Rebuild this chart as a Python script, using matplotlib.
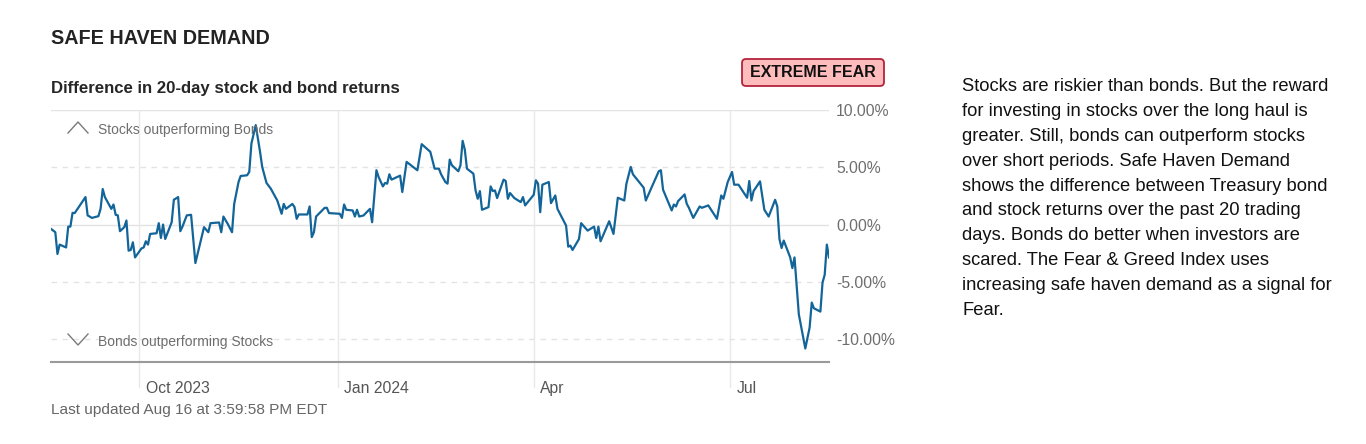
import matplotlib
matplotlib.use("Agg")
import matplotlib.pyplot as plt
from matplotlib.patches import FancyBboxPatch
from matplotlib.lines import Line2D
import pandas as pd

# --- data (date, 20-day stock minus bond return in %) ---
dates = [
    "2023-08-21", "2023-08-23", "2023-08-24", "2023-08-25", "2023-08-28", "2023-08-29",
    "2023-08-30", "2023-08-31", "2023-09-01", "2023-09-06", "2023-09-07", "2023-09-09",
    "2023-09-12", "2023-09-13", "2023-09-14", "2023-09-15", "2023-09-18", "2023-09-19",
    "2023-09-20", "2023-09-21", "2023-09-22", "2023-09-24", "2023-09-25", "2023-09-26",
    "2023-09-27", "2023-09-28", "2023-09-29", "2023-10-02", "2023-10-03", "2023-10-04",
    "2023-10-05", "2023-10-06", "2023-10-09", "2023-10-10", "2023-10-11", "2023-10-12",
    "2023-10-13", "2023-10-16", "2023-10-17", "2023-10-19", "2023-10-20", "2023-10-21",
    "2023-10-23", "2023-10-25", "2023-10-27", "2023-10-31", "2023-11-02", "2023-11-03",
    "2023-11-07", "2023-11-08", "2023-11-09", "2023-11-11", "2023-11-13", "2023-11-14",
    "2023-11-16", "2023-11-17", "2023-11-20", "2023-11-21", "2023-11-22", "2023-11-24",
    "2023-11-26", "2023-11-27", "2023-11-29", "2023-12-01", "2023-12-04", "2023-12-06",
    "2023-12-07", "2023-12-08", "2023-12-11", "2023-12-12", "2023-12-13", "2023-12-14",
    "2023-12-18", "2023-12-19", "2023-12-20", "2023-12-21", "2023-12-22", "2023-12-26",
    "2023-12-27", "2023-12-28", "2024-01-02", "2024-01-03", "2024-01-04", "2024-01-05",
    "2024-01-08", "2024-01-09", "2024-01-10", "2024-01-11", "2024-01-13", "2024-01-16",
    "2024-01-17", "2024-01-19", "2024-01-20", "2024-01-22", "2024-01-23", "2024-01-24",
    "2024-01-25", "2024-01-26", "2024-01-30", "2024-01-31", "2024-02-02", "2024-02-07",
    "2024-02-09", "2024-02-13", "2024-02-15", "2024-02-17", "2024-02-18", "2024-02-20",
    "2024-02-21", "2024-02-22", "2024-02-23", "2024-02-26", "2024-02-27", "2024-02-28",
    "2024-02-29", "2024-03-01", "2024-03-04", "2024-03-05", "2024-03-06", "2024-03-07",
    "2024-03-08", "2024-03-11", "2024-03-12", "2024-03-13", "2024-03-14", "2024-03-15",
    "2024-03-18", "2024-03-19", "2024-03-20", "2024-03-21", "2024-03-23", "2024-03-26",
    "2024-03-27", "2024-03-28", "2024-04-01", "2024-04-02", "2024-04-03", "2024-04-04",
    "2024-04-05", "2024-04-08", "2024-04-09", "2024-04-11", "2024-04-12", "2024-04-16",
    "2024-04-17", "2024-04-18", "2024-04-19", "2024-04-22", "2024-04-23", "2024-04-26",
    "2024-04-29", "2024-04-30", "2024-05-01", "2024-05-02", "2024-05-06", "2024-05-08",
    "2024-05-10", "2024-05-13", "2024-05-14", "2024-05-16", "2024-05-17", "2024-05-22",
    "2024-05-23", "2024-05-29", "2024-05-30", "2024-05-31", "2024-06-04", "2024-06-05",
    "2024-06-06", "2024-06-07", "2024-06-10", "2024-06-11", "2024-06-12", "2024-06-14",
    "2024-06-17", "2024-06-18", "2024-06-21", "2024-06-23", "2024-06-25", "2024-06-27",
    "2024-06-28", "2024-06-30", "2024-07-02", "2024-07-03", "2024-07-05", "2024-07-09",
    "2024-07-10", "2024-07-11", "2024-07-12", "2024-07-15", "2024-07-17", "2024-07-19",
    "2024-07-22", "2024-07-23", "2024-07-24", "2024-07-25", "2024-07-26", "2024-07-29",
    "2024-07-30", "2024-07-31", "2024-08-02", "2024-08-05", "2024-08-07", "2024-08-08",
    "2024-08-09", "2024-08-12", "2024-08-13", "2024-08-14", "2024-08-15", "2024-08-16",
]
values = [
    -0.38, -0.67, -2.57, -1.75, -2.00, -0.18,
    -0.18, 1.02, 1.00, 2.40, 0.80, 0.58,
    0.73, 1.37, 3.10, 2.40, 1.37, 1.75,
    0.85, 0.80, -0.58, -0.23, 0.35, -2.28,
    -2.22, -1.55, -2.87, -2.08, -2.00, -1.46,
    -1.75, -0.82, -0.76, 0.12, -1.17, 0.00,
    -1.26, 0.20, 2.16, 2.40, -0.58, -0.18,
    0.80, 0.85, -3.36, -0.23, -0.67, 0.12,
    0.18, -0.67, 0.70, 0.06, -0.67, 1.80,
    3.70, 4.24, 4.30, 4.60, 7.08, 8.68,
    6.35, 5.03, 3.63, 3.13, 2.10, 0.94,
    1.80, 1.37, 1.80, 1.52, 0.50, 0.88,
    0.88, 1.58, -1.10, -0.67, 0.70, 1.46,
    1.46, 1.00, 0.94, 0.58, 1.75, 1.29,
    1.23, 0.70, 1.29, 0.70, 0.79, 1.37,
    0.20, 4.74, 4.15, 3.33, 3.63, 3.57,
    4.39, 3.92, 4.27, 2.84, 5.47, 4.74,
    7.02, 6.35, 4.88, 4.88, 4.39, 3.71,
    3.57, 5.67, 5.18, 4.65, 5.18, 7.31,
    6.55, 4.88, 4.44, 2.98, 2.25, 2.92,
    1.29, 1.52, 3.33, 2.92, 2.98, 2.31,
    3.92, 3.80, 2.25, 2.75, 2.31, 1.96,
    2.40, 1.67, 2.60, 3.86, 3.57, 1.08,
    3.48, 3.71, 1.87, 2.54, 1.37, -0.09,
    -1.93, -1.84, -2.22, -1.26, 0.12, -0.53,
    -0.18, -1.17, -0.18, -1.46, 0.29, -0.82,
    2.34, 2.10, 3.57, 5.03, 4.39, 3.22,
    2.10, 4.65, 4.74, 3.04, 1.23, 1.75,
    1.58, 2.05, 2.63, 1.81, 1.46, 0.58,
    1.58, 1.46, 1.67, 1.08, 0.50, 2.54,
    2.25, 3.71, 4.59, 3.48, 3.48, 2.34,
    3.80, 2.10, 2.92, 3.77, 1.29, 0.70,
    2.16, 1.58, -1.26, -2.05, -1.40, -2.87,
    -3.80, -2.87, -7.84, -10.82, -9.00, -6.81,
    -7.31, -7.60, -5.06, -4.39, -1.75, -2.87,
]
y_ticks = [10, 5, 0, -5, -10]
y_tick_labels = ["10.00%", "5.00%", "0.00%", "-5.00%", "-10.00%"]
x_ticks = ["2023-10-01", "2024-01-01", "2024-04-01", "2024-07-01"]
x_tick_labels = ["Oct 2023", "Jan 2024", "Apr", "Jul"]

rating = "EXTREME FEAR"
description = ("Stocks are riskier than bonds. But the reward\n"
               "for investing in stocks over the long haul is\n"
               "greater. Still, bonds can outperform stocks\n"
               "over short periods. Safe Haven Demand\n"
               "shows the difference between Treasury bond\n"
               "and stock returns over the past 20 trading\n"
               "days. Bonds do better when investors are\n"
               "scared. The Fear & Greed Index uses\n"
               "increasing safe haven demand as a signal for\n"
               "Fear.")

W, H = 1366, 444
plt.rcParams["font.family"] = ["Liberation Sans", "DejaVu Sans"]


def fx(x):
    return x / W


def fy(y):
    return 1 - y / H


fig = plt.figure(figsize=(W / 100, H / 100), dpi=100)
fig.patch.set_facecolor("white")

# plot area in pixel terms: x 51..829, y 110..362
ax = fig.add_axes([fx(51), fy(362), fx(829) - fx(51), fy(110) - fy(362)])
x = pd.to_datetime(dates)
ax.plot(x, values, color="#136599", lw=1.6, solid_joinstyle="round", zorder=3)

ax.set_xlim(x[0], x[-1])
ax.set_ylim(-12, 10)

for t in y_ticks:
    style = "-" if t in (10, 0) else (0, (4, 4))
    ax.axhline(t, color="#e3e3e3", lw=1, ls=style, zorder=1)
ax.axhline(-12, color="#9a9a9a", lw=1.5, zorder=2, clip_on=False)

for side in ax.spines.values():
    side.set_visible(False)
ax.set_yticks(y_ticks)
ax.yaxis.tick_right()
ax.set_yticklabels(y_tick_labels, fontsize=11.3, color="#6e6e6e")
ax.tick_params(axis="y", length=0, pad=5)

xt = pd.to_datetime(x_ticks)
ax.set_xticks(xt)
ax.set_xticklabels([])
ax.tick_params(axis="x", length=0)
for d, lab in zip(xt, x_tick_labels):
    ax.axvline(d, color="#e8e8e8", lw=1, zorder=1)
    ax.plot([d, d], [-12, -14.2], color="#e8e8e8", lw=1, clip_on=False, zorder=1)
    ax.text(d + pd.Timedelta(days=3), -14.3, lab, fontsize=11.3, color="#555555",
            ha="left", va="center", clip_on=False)

# region hints with chevrons
fig.add_artist(Line2D([fx(68), fx(78), fx(88)], [fy(133), fy(122), fy(133)],
                      color="#7a7a7a", lw=1.0))
fig.add_artist(Line2D([fx(68), fx(78), fx(88)], [fy(334), fy(345), fy(334)],
                      color="#7a7a7a", lw=1.0))
fig.text(fx(98), fy(130), "Stocks outperforming Bonds", fontsize=10, color="#6e6e6e",
         va="center", ha="left")
fig.text(fx(98), fy(342), "Bonds outperforming Stocks", fontsize=10, color="#6e6e6e",
         va="center", ha="left")

# headings
fig.text(fx(51), fy(38), "SAFE HAVEN DEMAND", fontsize=14.2, fontweight="bold",
         color="#222222", va="center", ha="left")
fig.text(fx(51), fy(88), "Difference in 20-day stock and bond returns", fontsize=12.1,
         fontweight="bold", color="#262626", va="center", ha="left")

# rating badge
badge = FancyBboxPatch((fx(742), fy(86)), fx(884) - fx(742), fy(59) - fy(86),
                       boxstyle="round,pad=0,rounding_size=%f" % (4 / W),
                       mutation_aspect=W / H,
                       transform=fig.transFigure, facecolor="#ffbcbc",
                       edgecolor="#b3243c", lw=1.3)
fig.add_artist(badge)
fig.text(fx(813), fy(72.5), rating, fontsize=11.5, fontweight="bold", color="#111111",
         ha="center", va="center")

fig.text(fx(51), fy(410), "Last updated Aug 16 at 3:59:58 PM EDT", fontsize=11.1,
         color="#666666", va="center", ha="left")

fig.text(fx(962), fy(198.5), description, fontsize=13.2, color="#111111", va="center",
         ha="left", multialignment="left", linespacing=1.6)

fig.savefig("out.png", dpi=100, facecolor="white")
